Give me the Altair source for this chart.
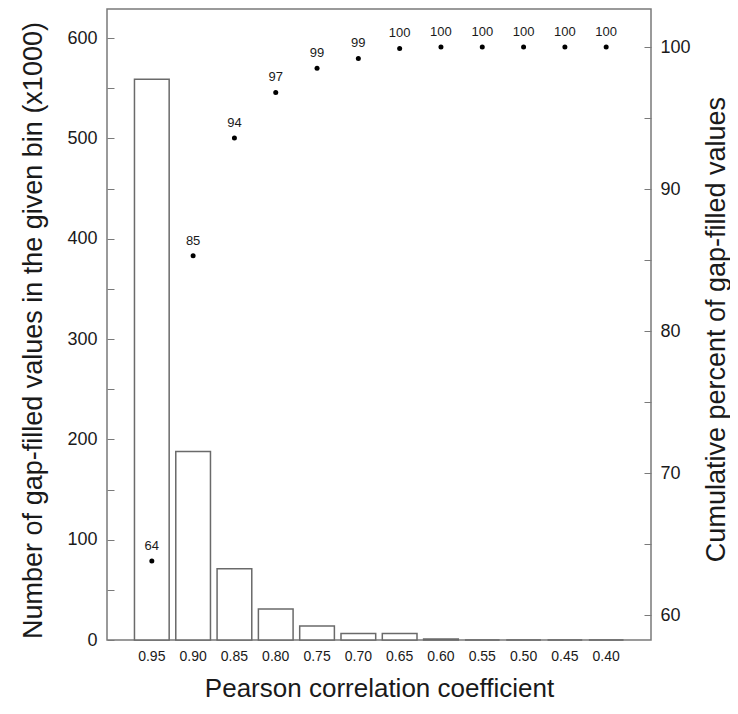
import altair as alt
import pandas as pd

bins = ["0.95", "0.90", "0.85", "0.80", "0.75", "0.70", "0.65", "0.60", "0.55", "0.50", "0.45", "0.40"]
counts = [559, 188, 71, 31, 14, 6.5, 6.5, 1, 0, 0, 0, 0]
cum_pct = [63.8, 85.3, 93.6, 96.8, 98.5, 99.2, 99.9, 100, 100, 100, 100, 100]
cum_labels = ["64", "85", "94", "97", "99", "99", "100", "100", "100", "100", "100", "100"]

df = pd.DataFrame({"bin": bins, "count": counts, "pct": cum_pct, "lab": cum_labels})

FONT = "Liberation Sans"
GRAY = "#7a7a7a"
TXT = "#1a1a1a"

x_enc = alt.X(
    "bin:N",
    sort=bins,
    scale=alt.Scale(paddingInner=0.16, paddingOuter=0.665),
    axis=alt.Axis(
        title="Pearson correlation coefficient",
        labelAngle=0,
        ticks=False,
        domain=False,
        labelPadding=9,
        labelFontSize=14,
        titleFontSize=26,
        titleFontWeight="normal",
        titleY=48,
        titleBaseline="middle",
    ),
)

bars = alt.Chart(df).mark_bar(fill="white", stroke="#6a6a6a", strokeWidth=1.5).encode(
    x=x_enc,
    y=alt.Y(
        "count:Q",
        scale=alt.Scale(domain=[0, 629], nice=False),
        axis=alt.Axis(
            title="Number of gap-filled values in the given bin (x1000)",
            values=list(range(0, 601, 50)),
            labelExpr="datum.value % 100 == 0 ? datum.label : ''",
            grid=False,
            domain=False,
            offset=-7,
            tickSize=7,
            tickColor=GRAY,
            labelPadding=10,
            labelFontSize=18,
            titleFontSize=27,
            titleFontWeight="normal",
            titleX=-81,
            titleY=321,
            titleAngle=270,
            titleBaseline="middle",
            titleAlign="center",
            titleLimit=700,
        ),
    ),
)

y_scale_r = alt.Scale(domain=[58.24, 102.68], nice=False, zero=False)
y_right = alt.Y(
    "pct:Q",
    scale=y_scale_r,
    axis=alt.Axis(
        orient="right",
        title="Cumulative percent of gap-filled values",
        values=list(range(60, 101, 5)),
        labelExpr="datum.value % 10 == 0 ? datum.label : ''",
        grid=False,
        domain=False,
        offset=-7,
        tickSize=7,
        tickColor=GRAY,
        labelPadding=9,
        labelFontSize=18,
        titleFontSize=27,
        titleFontWeight="normal",
        titleX=72,
        titleY=320,
        titleAngle=270,
        titleBaseline="middle",
        titleAlign="center",
        titleLimit=700,
    ),
)

pts = alt.Chart(df).mark_circle(color="black", size=25, opacity=1).encode(x=x_enc, y=y_right)
txt = alt.Chart(df).mark_text(fontSize=13, dy=-15, color=TXT, font=FONT).encode(
    x=x_enc, y=y_right, text="lab:N"
)

right = alt.layer(pts, txt)

chart = (
    alt.layer(bars, right)
    .resolve_scale(y="independent")
    .properties(
        width=544,
        height=631,
        padding={"left": 99, "top": 1, "right": 79, "bottom": 66},
        autosize=alt.AutoSizeParams(type="none"),
    )
    .configure_view(stroke=GRAY, strokeWidth=1.5)
    .configure_axis(labelFont=FONT, titleFont=FONT, labelColor=TXT, titleColor=TXT)
)

chart.save("out.html", embed_options={"renderer": "svg", "actions": False})
